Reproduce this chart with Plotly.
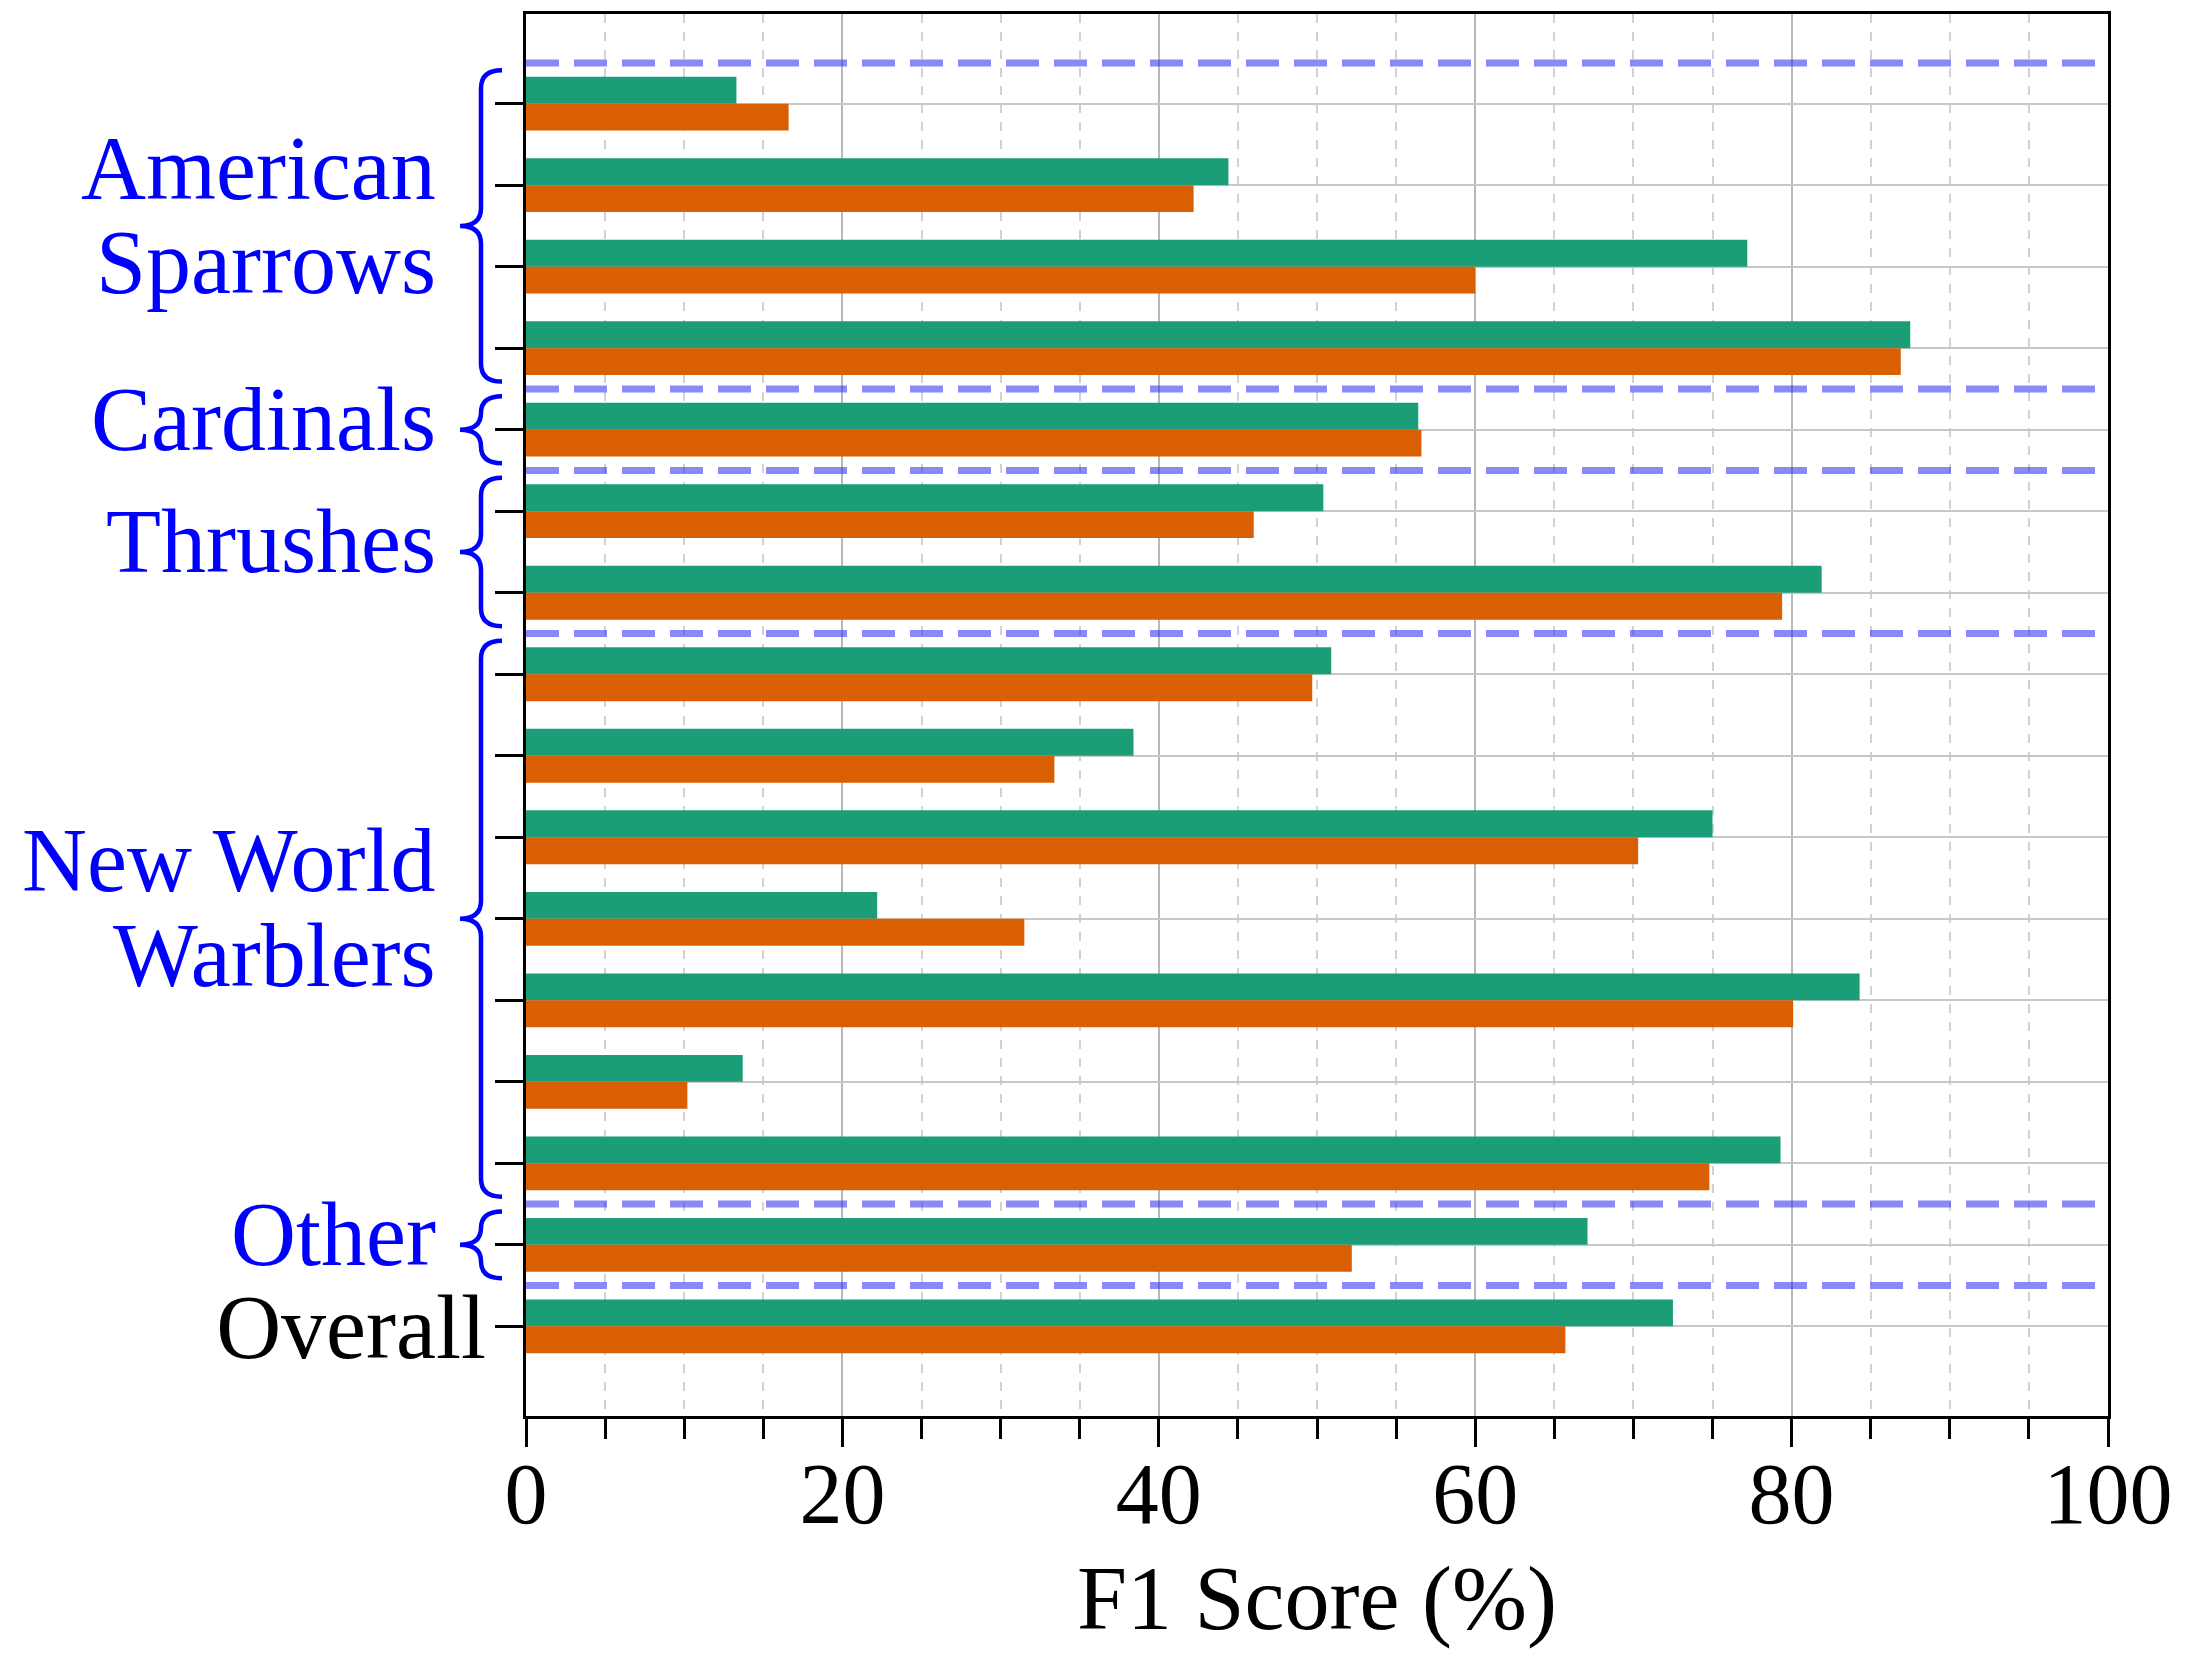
import plotly.graph_objects as go

# F1 scores per species row (top to bottom), grouped by bird family
groups = ["American Sparrows", "Cardinals", "Thrushes", "New World Warblers", "Other"]
group_lines = [["American", "Sparrows"], ["Cardinals"], ["Thrushes"], ["New World", "Warblers"], ["Other"]]
group_sizes = [4, 1, 2, 7, 1]
overall_label = "Overall"

method_a = [13.3, 44.4, 77.2, 87.5, 56.4, 50.4, 81.9, 50.9, 38.4, 75.0, 22.2, 84.3, 13.7, 79.3, 67.1, 72.5]
method_b = [16.6, 42.2, 60.0, 86.9, 56.6, 46.0, 79.4, 49.7, 33.4, 70.3, 31.5, 80.1, 10.2, 74.8, 52.2, 65.7]

x_ticks = [0, 20, 40, 60, 80, 100]
x_title = "F1 Score (%)"

GREEN = "#1b9e77"
ORANGE = "#d95f02"
BLUE = "#0000ff"
FONT = "Liberation Serif"

W, H = 2198, 1657
L, R, T, B = 526, 90, 11, 241
plot_w = W - L - R

rows = list(range(len(method_a)))

fig = go.Figure()
fig.add_trace(go.Bar(y=rows, x=method_a, orientation="h", name="Method A",
                     marker=dict(color=GREEN, line=dict(width=0))))
fig.add_trace(go.Bar(y=rows, x=method_b, orientation="h", name="Method B",
                     marker=dict(color=ORANGE, line=dict(width=0))))


def px_to_paper(px):
    return (px - L) / plot_w


shapes = []
annotations = []

# dashed separators between families, braces and family names
start = 0
sep_rows = [-0.5]
for name, lines, size in zip(groups, group_lines, group_sizes):
    end = start + size - 1
    sep_rows.append(end + 0.5)
    y0, y1 = start - 0.41, end + 0.41
    ym = (y0 + y1) / 2
    r = min(0.22, (y1 - y0) / 4)
    xe, xb, xt = px_to_paper(502), px_to_paper(481), px_to_paper(460)
    path = (f"M {xe},{y0} Q {xb},{y0} {xb},{y0 + r} L {xb},{ym - r} "
            f"Q {xb},{ym} {xt},{ym} Q {xb},{ym} {xb},{ym + r} "
            f"L {xb},{y1 - r} Q {xb},{y1} {xe},{y1}")
    shapes.append(dict(type="path", path=path, xref="paper", yref="y",
                       line=dict(color=BLUE, width=4.5), layer="above"))
    n = len(lines)
    spacing = 1.16
    for i, t in enumerate(lines):
        yy = ym + (i - (n - 1) / 2) * spacing - 0.13
        annotations.append(dict(text=t, x=px_to_paper(438), y=yy, xref="paper", yref="y",
                                xanchor="right", yanchor="middle", showarrow=False,
                                font=dict(family=FONT, size=90, color=BLUE)))
    start = end + 1

for yr in sep_rows:
    shapes.append(dict(type="line", xref="paper", yref="y", x0=0, x1=1, y0=yr, y1=yr,
                       line=dict(color="rgba(40,40,240,0.55)", width=7, dash="33px,15px"),
                       layer="above"))

title_px = 1599
annotations.append(dict(text=x_title, x=0.5, y=-(title_px - (H - B)) / (H - T - B),
                        xref="paper", yref="paper",
                        showarrow=False, xanchor="center", yanchor="middle",
                        font=dict(family=FONT, size=90, color="black")))

tick_text = [""] * (len(rows) - 1) + [overall_label]

fig.update_layout(
    width=W, height=H,
    margin=dict(l=L, r=R, t=T, b=B, pad=0),
    paper_bgcolor="white", plot_bgcolor="white",
    barmode="group", bargap=0.34, bargroupgap=0,
    showlegend=False,
    shapes=shapes, annotations=annotations,
    font=dict(family=FONT, color="black"),
    xaxis=dict(
        range=[0, 100], tickvals=x_ticks, ticktext=[str(v) for v in x_ticks],
        ticks="outside", ticklen=28, tickwidth=3, tickcolor="black",
        ticklabelstandoff=-27,
        tickfont=dict(family=FONT, size=86, color="black"),
        showline=True, linecolor="black", linewidth=3, mirror=True,
        showgrid=True, gridcolor="#b8b8b8", gridwidth=2, zeroline=False,
        minor=dict(dtick=5, tick0=0, ticks="outside", ticklen=20, tickwidth=3, tickcolor="black",
                   showgrid=True, gridcolor="#d2d2d2", gridwidth=2, griddash="dash"),
    ),
    yaxis=dict(
        range=[16.1, -1.1], tickvals=rows, ticktext=tick_text,
        ticks="outside", ticklen=28, tickwidth=3, tickcolor="black",
        ticklabelstandoff=-9,
        tickfont=dict(family=FONT, size=90, color="black"),
        showline=True, linecolor="black", linewidth=3, mirror=True,
        showgrid=True, gridcolor="#c8c8c8", gridwidth=2, zeroline=False,
    ),
)

fig.write_html("out.html")
